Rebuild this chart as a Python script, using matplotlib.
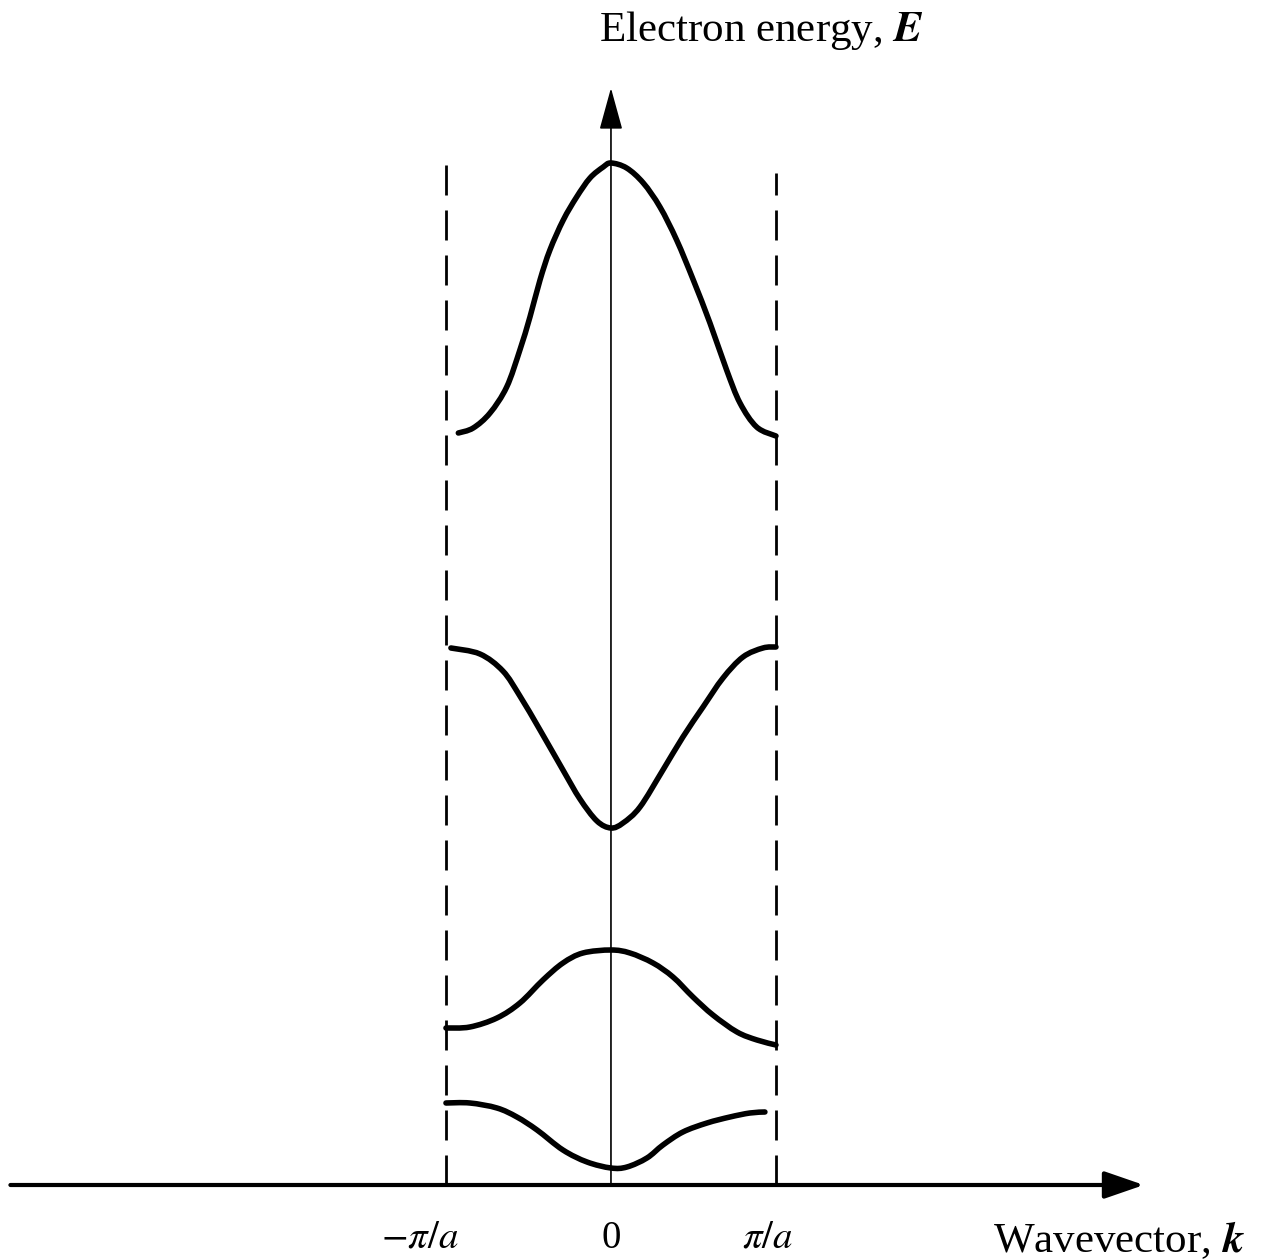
"""
Electron energy bands in the reduced zone scheme
"""
import matplotlib
matplotlib.use("Agg")
import matplotlib.pyplot as plt
from matplotlib.path import Path
from matplotlib.patches import PathPatch

plt.rcParams["font.family"] = ["Liberation Serif", "DejaVu Serif"]
plt.rcParams["mathtext.fontset"] = "stix"

# wavevector in units of pi/a, energy in arbitrary units
band1_k = [-1.0, -0.855, -0.691, -0.570, -0.448, -0.291, -0.145, 0.0,
           0.097, 0.218, 0.315, 0.436, 0.582, 0.721, 0.842, 0.933]
band1_E = [0.82, 0.82, 0.77, 0.68, 0.55, 0.35, 0.23, 0.17,
           0.18, 0.27, 0.40, 0.53, 0.62, 0.68, 0.72, 0.73]

band2_k = [-1.0, -0.855, -0.691, -0.552, -0.412, -0.291, -0.170, 0.0,
           0.115, 0.255, 0.376, 0.497, 0.618, 0.764, 0.885, 1.0]
band2_E = [1.57, 1.58, 1.67, 1.82, 2.05, 2.22, 2.32, 2.35,
           2.32, 2.22, 2.08, 1.88, 1.70, 1.53, 1.45, 1.40]

band3_k = [-0.97, -0.794, -0.655, -0.552, -0.430, -0.291, -0.188, -0.085, 0.0,
           0.073, 0.176, 0.315, 0.436, 0.558, 0.679, 0.8, 0.921, 1.0]
band3_E = [5.37, 5.31, 5.14, 4.89, 4.55, 4.15, 3.86, 3.64, 3.57,
           3.62, 3.78, 4.15, 4.48, 4.78, 5.07, 5.28, 5.37, 5.38]

band4_k = [-0.925, -0.835, -0.733, -0.632, -0.552, -0.491, -0.430, -0.370, -0.289,
           -0.208, -0.127, -0.047, 0.0, 0.095, 0.196, 0.297, 0.398, 0.499, 0.6,
           0.701, 0.782, 0.883, 1.0]
band4_E = [7.52, 7.57, 7.72, 7.98, 8.35, 8.68, 9.05, 9.35, 9.65,
           9.88, 10.07, 10.18, 10.22, 10.17, 10.02, 9.78, 9.45, 9.05, 8.62,
           8.15, 7.82, 7.58, 7.49]

zone_edges = [-1.0, 1.0]
zone_tops = [10.2, 10.12]
tick_pos = [-1.157, 0.0, 0.95]
tick_labels = [r"$-\pi/a$", "0", r"$\pi/a$"]


# smooth path through the read points (Catmull-Rom as cubic Bezier)
def smooth_path(k, E):
    pts = list(zip(k, E))
    verts = [pts[0]]
    codes = [Path.MOVETO]
    n = len(pts)
    for i in range(n - 1):
        p0 = pts[max(i - 1, 0)]
        p1 = pts[i]
        p2 = pts[i + 1]
        p3 = pts[min(i + 2, n - 1)]
        c1 = (p1[0] + (p2[0] - p0[0]) / 6, p1[1] + (p2[1] - p0[1]) / 6)
        c2 = (p2[0] - (p3[0] - p1[0]) / 6, p2[1] - (p3[1] - p1[1]) / 6)
        verts += [c1, c2, p2]
        codes += [Path.CURVE4] * 3
    return Path(verts, codes)


fig = plt.figure(figsize=(12.64, 12.60), dpi=100)
ax = fig.add_axes([0, 0, 1, 1])
ax.set_xlim(-3.703, 3.958)
ax.set_ylim(-0.75, 11.85)
ax.axis("off")

# bands
for k, E in [(band1_k, band1_E), (band2_k, band2_E),
             (band3_k, band3_E), (band4_k, band4_E)]:
    ax.add_patch(PathPatch(smooth_path(k, E), fill=False, edgecolor="black",
                           lw=4, capstyle="round", joinstyle="round"))

# Brillouin zone boundaries
for x, top in zip(zone_edges, zone_tops):
    ax.plot([x, x], [0, top], color="black", lw=2, linestyle=(0, (10.8, 5.4)))

# axes with arrows
ax.annotate("", xy=(3.23, 0), xytext=(-3.64, 0),
            arrowprops=dict(arrowstyle="-|>,head_length=1.1,head_width=0.38",
                            color="black", lw=3, mutation_scale=22, shrinkA=0, shrinkB=0))
ax.annotate("", xy=(0, 10.97), xytext=(0, 0),
            arrowprops=dict(arrowstyle="-|>,head_length=1.2,head_width=0.33",
                            color="black", lw=1.2, mutation_scale=22, shrinkA=0, shrinkB=0))

# labels
for x, lab in zip(tick_pos, tick_labels):
    ax.text(x, -0.53, lab, ha="center", va="center", fontsize=28)
ax.text(0.91, 11.55, r"Electron energy, $\mathbfit{E}$", ha="center", va="center",
        fontsize=31)
ax.text(3.08, -0.55, r"Wavevector, $\mathbfit{k}$", ha="center", va="center",
        fontsize=31)

fig.savefig("out.png", dpi=100, facecolor="white")
